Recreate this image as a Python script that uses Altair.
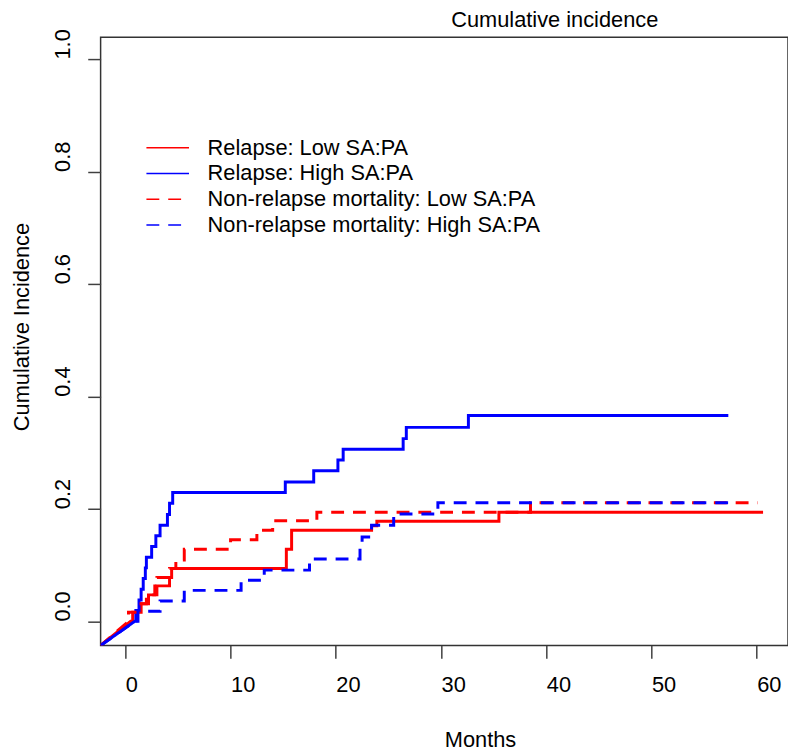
import altair as alt
import pandas as pd

SERIES = ["Relapse: Low SA:PA", "Relapse: High SA:PA",
          "Non-relapse mortality: Low SA:PA", "Non-relapse mortality: High SA:PA"]
COLORS = ["#FF0000", "#0000FF", "#FF0000", "#0000FF"]
DASHES = [[1, 0], [1, 0], [13, 9], [13, 9]]

X_DOMAIN = [-2.35, 62.97]
Y_DOMAIN = [-0.043, 1.039]
X_TICKS = [0, 10, 20, 30, 40, 50, 60]
Y_TICKS = [0.0, 0.2, 0.4, 0.6, 0.8, 1.0]

# Relapse: Low SA:PA
rl_start, rl_end = 0.5, 60.6
rl_t = [0.7, 1.5, 2.2, 3.0, 4.2, 4.4, 15.3, 15.8, 23.4, 23.9, 35.5]
rl_v = [0.016, 0.031, 0.047, 0.063, 0.078, 0.094, 0.128, 0.162, 0.170, 0.178, 0.194]

# Relapse: High SA:PA
rh_start, rh_end = 0.9, 57.3
rh_t = [1.0, 1.3, 1.5, 1.7, 1.9, 2.0, 2.5, 2.9, 3.3, 4.0, 4.2, 4.5,
        15.2, 17.9, 20.2, 20.7, 26.4, 26.7, 32.6]
rh_v = [0.019, 0.038, 0.057, 0.076, 0.095, 0.114, 0.133, 0.152, 0.171, 0.190, 0.210, 0.229,
        0.248, 0.268, 0.287, 0.306, 0.325, 0.345, 0.366]

# Non-relapse mortality: Low SA:PA
nl_start, nl_end = 0.3, 60.1
nl_t = [0.3, 1.2, 2.0, 2.8, 3.0, 4.2, 4.8, 5.6, 10.0, 12.5, 14.0, 18.2, 38.5]
nl_v = [0.016, 0.031, 0.047, 0.063, 0.078, 0.094, 0.109, 0.128, 0.145, 0.162, 0.179, 0.194, 0.211]

# Non-relapse mortality: High SA:PA
nh_start, nh_end = 0.9, 57.5
nh_t = [1.2, 3.3, 5.6, 11.0, 13.2, 17.5, 22.3, 22.5, 23.4, 25.5, 29.7]
nh_v = [0.018, 0.036, 0.055, 0.073, 0.091, 0.111, 0.130, 0.150, 0.171, 0.191, 0.211]


def step_rows(name, start, times, values, end):
    pts = [(X_DOMAIN[0], Y_DOMAIN[0]), (start, 0.0)]
    prev = 0.0
    for t, v in zip(times, values):
        pts.append((t, prev))
        pts.append((t, v))
        prev = v
    pts.append((end, prev))
    return [{"series": name, "i": i, "t": t, "v": v} for i, (t, v) in enumerate(pts)]


rows = []
rows += step_rows(SERIES[0], rl_start, rl_t, rl_v, rl_end)
rows += step_rows(SERIES[1], rh_start, rh_t, rh_v, rh_end)
rows += step_rows(SERIES[2], nl_start, nl_t, nl_v, nl_end)
rows += step_rows(SERIES[3], nh_start, nh_t, nh_v, nh_end)
df = pd.DataFrame(rows)

FONT = "Liberation Sans"
FS = 22

legend = alt.Legend(
    orient="none", legendX=56.25, legendY=100, title=None,
    symbolType="M-2,0H2", symbolSize=462, symbolStrokeWidth=1.5,
    labelFontSize=FS, labelFont=FONT, labelColor="black", labelOffset=28.75,
    rowPadding=3, padding=0, labelLimit=600,
)

chart = alt.Chart(df).mark_line(strokeWidth=3, clip=True, strokeCap="butt").encode(
    x=alt.X("t:Q",
            scale=alt.Scale(domain=X_DOMAIN, nice=False, zero=False),
            axis=alt.Axis(values=X_TICKS, title="Months", format="d",
                          titleX=347, titleY=95, titleBaseline="middle", titleAlign="left",
                          labelPadding=16, labelAlign="left")),
    y=alt.Y("v:Q",
            scale=alt.Scale(domain=Y_DOMAIN, nice=False, zero=False),
            axis=alt.Axis(values=Y_TICKS, title="Cumulative Incidence", format=".1f",
                          labelAngle=270, labelAlign="center", labelBaseline="bottom",
                          labelPadding=13, labelOffset=-15.5,
                          titleAngle=270, titleX=-79.5, titleY=292,
                          titleBaseline="middle", titleAlign="center")),
    color=alt.Color("series:N", scale=alt.Scale(domain=SERIES, range=COLORS), legend=legend),
    strokeDash=alt.StrokeDash("series:N", scale=alt.Scale(domain=SERIES, range=DASHES), legend=legend),
    order=alt.Order("i:Q"),
).properties(
    width=694, height=614,
    background="white",
    autosize=alt.AutoSizeParams(type="none"),
    padding={"left": 93.5, "top": 26, "right": 0, "bottom": 105},
    title=alt.TitleParams("Cumulative incidence", fontSize=FS, font=FONT, fontWeight="normal",
                          color="black", anchor="middle", align="left", frame="group", dx=7,
                          dy=24, offset=4, baseline="alphabetic"),
).configure_axis(
    labelFont=FONT, labelFontSize=FS, labelColor="black",
    titleFont=FONT, titleFontSize=FS, titleFontWeight="normal", titleColor="black",
    tickSize=13, tickColor="#404040", tickWidth=1.5, domain=False, grid=False,
).configure_view(
    stroke="#333333", strokeWidth=1.5,
)

chart.save("out.html", embed_options={"renderer": "svg", "actions": False})
